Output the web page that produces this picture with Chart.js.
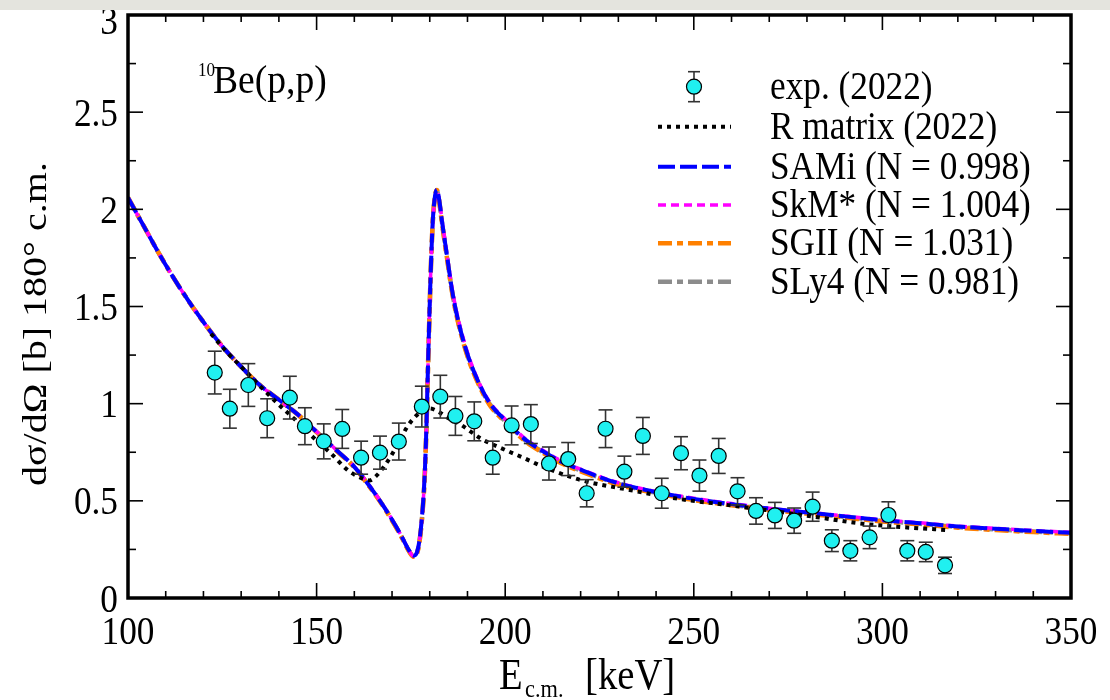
<!DOCTYPE html>
<html>
<head>
<meta charset="utf-8">
<script src="https://cdn.jsdelivr.net/npm/chart.js@4.4.1/dist/chart.umd.min.js"></script>
<style>
html,body{margin:0;padding:0;background:#fff;}
#wrap{position:relative;width:1110px;height:700px;overflow:hidden;}
#band{position:absolute;left:0;top:0;width:1110px;height:10px;background:#e4e4de;}
canvas{position:absolute;left:0;top:0;}
#probe{position:absolute;left:-2000px;top:0;font-family:"Liberation Serif";font-size:40px;}
</style>
</head>
<body>
<div id="wrap">
<canvas id="c" width="1110" height="700"></canvas>
<div id="band"></div>
</div>
<div id="probe">dσ/dΩ 0123456789 exp. (2022)</div>
<script>
// ---------------- data ----------------
const expE = [123.0,127.0,131.9,136.9,142.9,146.9,151.9,156.8,161.8,166.8,171.8,177.9,182.8,186.8,191.8,196.7,201.7,206.8,211.6,216.7,221.6,226.6,231.6,236.5,241.5,246.6,251.5,256.6,261.6,266.5,271.5,276.6,281.5,286.6,291.5,296.6,301.6,306.6,311.5,316.6];
const expSigma = [1.16,0.974,1.096,0.925,1.031,0.884,0.806,0.870,0.722,0.748,0.805,0.985,1.036,0.937,0.909,0.722,0.888,0.895,0.692,0.715,0.539,0.871,0.650,0.834,0.539,0.745,0.630,0.731,0.549,0.448,0.425,0.398,0.470,0.295,0.243,0.312,0.427,0.243,0.237,0.168];
const expErr = [0.11,0.10,0.11,0.10,0.11,0.095,0.09,0.10,0.085,0.085,0.095,0.105,0.11,0.10,0.10,0.085,0.10,0.10,0.085,0.085,0.07,0.097,0.08,0.095,0.077,0.085,0.08,0.09,0.07,0.068,0.067,0.065,0.075,0.056,0.052,0.058,0.068,0.052,0.05,0.042];

const rE = [122,126,130,135,140,145,150,154,158,161,164,166,168,170,172,174,176,178,180,182,185,188.4,193.4,200,205,210,220,233,246,260,272,282,294,305,317];
const rSigma = [1.36,1.27,1.19,1.09,0.995,0.905,0.81,0.74,0.662,0.625,0.605,0.632,0.68,0.74,0.81,0.88,0.93,0.962,0.975,0.962,0.925,0.89,0.822,0.762,0.72,0.676,0.607,0.556,0.51,0.476,0.445,0.418,0.384,0.365,0.35];

const thE = [100,104,108,112,116,120,125,130,135,140,145,150,155,160,165,168,171,173,174.5,175.7,176.6,177.3,178.0,178.6,179.1,179.5,179.9,180.3,180.8,181.4,181.9,182.5,183.2,184.6,185.9,187.2,189.9,193.4,196,200,205,210,215,220,230,240,250,260,270,280,290,300,310,320,330,340,350];
const samiSigma = [2.06,1.92,1.78,1.65,1.53,1.42,1.295,1.19,1.095,1.02,0.945,0.855,0.765,0.675,0.55,0.465,0.37,0.30,0.245,0.218,0.235,0.30,0.43,0.61,0.87,1.17,1.45,1.70,1.94,2.07,2.10,2.05,1.945,1.757,1.585,1.455,1.26,1.09,1.00,0.915,0.82,0.755,0.70,0.66,0.59,0.545,0.51,0.483,0.46,0.44,0.42,0.40,0.385,0.368,0.356,0.345,0.336];
const skmSigma = [2.06,1.92,1.78,1.65,1.53,1.42,1.295,1.19,1.095,1.02,0.945,0.856,0.766,0.676,0.552,0.466,0.371,0.30,0.244,0.216,0.233,0.30,0.43,0.61,0.87,1.17,1.45,1.70,1.93,2.06,2.09,2.05,1.95,1.765,1.595,1.465,1.27,1.095,1.005,0.92,0.825,0.76,0.704,0.663,0.593,0.548,0.513,0.486,0.462,0.442,0.422,0.402,0.387,0.37,0.358,0.347,0.338];
const sgiiSigma = [2.06,1.92,1.78,1.65,1.53,1.42,1.295,1.19,1.095,1.02,0.944,0.853,0.763,0.672,0.547,0.462,0.366,0.296,0.24,0.212,0.228,0.292,0.42,0.60,0.86,1.16,1.44,1.70,1.94,2.07,2.10,2.04,1.935,1.745,1.575,1.445,1.25,1.08,0.99,0.905,0.812,0.747,0.692,0.652,0.583,0.539,0.504,0.477,0.454,0.434,0.414,0.394,0.379,0.362,0.35,0.339,0.33];
const sly4Sigma = [2.06,1.92,1.78,1.65,1.53,1.42,1.295,1.19,1.095,1.02,0.945,0.855,0.764,0.674,0.549,0.464,0.368,0.298,0.242,0.214,0.231,0.296,0.425,0.605,0.865,1.165,1.445,1.70,1.935,2.065,2.095,2.045,1.94,1.75,1.58,1.45,1.255,1.085,0.995,0.91,0.816,0.751,0.696,0.656,0.587,0.542,0.507,0.48,0.457,0.437,0.417,0.397,0.382,0.365,0.353,0.342,0.333];

const xTickValues = [100,150,200,250,300,350];
const xTickLabels = ['100','150','200','250','300','350'];
const yTickValues = [0,0.5,1,1.5,2,2.5,3];
const yTickLabels = ['0','0.5','1','1.5','2','2.5','3'];

const seriesNames = ['exp. (2022)','R matrix (2022)','SAMi (N = 0.998)','SkM* (N = 1.004)','SGII (N = 1.031)','SLy4 (N = 0.981)'];

// ---------------- helpers ----------------
const FONT = '"Liberation Serif", serif';
const SX = 0.86;
function pts(xs, ys){ return xs.map((x,i)=>({x:x, y:ys[i]})); }
function txt(ctx, s, x, y, size, align, sx){
  ctx.save(); ctx.translate(x,y); ctx.scale(sx===undefined?SX:sx,1);
  ctx.font = size + 'px ' + FONT; ctx.textAlign = align||'left'; ctx.textBaseline='alphabetic';
  ctx.fillStyle='#000'; ctx.fillText(s,0,0); ctx.restore();
}
function seg(ctx,x1,y1,x2,y2){ ctx.beginPath(); ctx.moveTo(x1,y1); ctx.lineTo(x2,y2); ctx.stroke(); }

const lineStyles = [
  null,
  {color:'#000000', width:4, dash:[4,5]},
  {color:'#0000ff', width:4, dash:[17,5]},
  {color:'#ff00ff', width:3.5, dash:[8,5]},
  {color:'#ff8000', width:4.5, dash:[14,5,6,5]},
  {color:'#8c8c8c', width:4.5, dash:[14,5,6,5]}
];

function lineDs(label, xs, ys, st, order){
  return {label:label, data:pts(xs,ys), showLine:true, fill:false, pointRadius:0,
    borderColor:st.color, borderWidth:st.width, borderDash:st.dash, borderCapStyle:'butt',
    cubicInterpolationMode:'monotone', order:order};
}

const errorBars = {
  id:'errorBars',
  beforeDatasetDraw(chart, args){
    if(args.index!==0) return;
    const ctx=chart.ctx, xs=chart.scales.x, ys=chart.scales.y;
    ctx.save(); ctx.strokeStyle='#333'; ctx.lineWidth=1.6;
    expE.forEach((e,i)=>{
      const px=xs.getPixelForValue(e);
      const top=ys.getPixelForValue(expSigma[i]+expErr[i]);
      const bot=ys.getPixelForValue(expSigma[i]-expErr[i]);
      seg(ctx,px,top,px,bot); seg(ctx,px-7,top,px+7,top); seg(ctx,px-7,bot,px+7,bot);
    });
    ctx.restore();
  }
};

const frame = {
  id:'frame',
  afterDraw(chart){
    const ctx=chart.ctx, xs=chart.scales.x, ys=chart.scales.y, a=chart.chartArea;
    ctx.save();
    ctx.strokeStyle='#000';
    ctx.lineWidth=1.6;
    for(let v=xs.min; v<=xs.max+1e-9; v+=10){
      const px=xs.getPixelForValue(v); const L=(Math.round(v)%50===0)?15:7;
      seg(ctx,px,a.bottom,px,a.bottom-L); seg(ctx,px,a.top,px,a.top+L);
    }
    for(let v=ys.min; v<=ys.max+1e-9; v+=0.25){
      const py=ys.getPixelForValue(v); const L=(Math.round(v*4)%2===0)?15:8;
      seg(ctx,a.left,py,a.left+L,py); seg(ctx,a.right,py,a.right-L,py);
    }
    ctx.lineWidth=3.5;
    ctx.strokeRect(a.left,a.top,a.right-a.left,a.bottom-a.top);
    // tick labels
    xTickValues.forEach((v,i)=>{ txt(ctx,xTickLabels[i],xs.getPixelForValue(v),a.bottom+46,41,'center'); });
    yTickValues.forEach((v,i)=>{ const py=ys.getPixelForValue(v); txt(ctx,yTickLabels[i],a.left-10,Math.max(py+13.5,a.top+19),41,'right'); });
    // x title
    txt(ctx,'E',499,689,45,'left');
    txt(ctx,'c.m.',525,697,26,'left');
    txt(ctx,'[keV]',585,689,45,'left');
    // y title (rotated)
    ctx.save(); ctx.translate(45.5,324); ctx.scale(SX,1); ctx.rotate(-Math.PI/2);
    ctx.font='40px '+FONT; ctx.textAlign='center'; ctx.textBaseline='alphabetic'; ctx.fillStyle='#000';
    ctx.fillText('dσ/dΩ [b] 180° c.m.',0,0); ctx.restore();
    // annotation
    txt(ctx,'10',198,76,19,'left',0.9);
    txt(ctx,'Be(p,p)',213,93,40,'left',0.94);
    // legend
    const rowY=[86.7,126.7,166.7,205,243.3,281.7];
    ctx.strokeStyle='#333'; ctx.lineWidth=1.6;
    seg(ctx,694,rowY[0]-15,694,rowY[0]+15); seg(ctx,688,rowY[0]-15,700,rowY[0]-15); seg(ctx,688,rowY[0]+15,700,rowY[0]+15);
    ctx.beginPath(); ctx.arc(694,rowY[0],7.5,0,Math.PI*2); ctx.fillStyle='#20f0f0'; ctx.fill(); ctx.strokeStyle='#000'; ctx.lineWidth=1.2; ctx.stroke();
    for(let i=1;i<6;i++){
      const st=lineStyles[i]; ctx.strokeStyle=st.color; ctx.lineWidth=st.width; ctx.setLineDash(st.dash); ctx.lineCap='butt';
      seg(ctx,658,rowY[i],731,rowY[i]);
    }
    ctx.setLineDash([]);
    seriesNames.forEach((s,i)=>txt(ctx,s,770,rowY[i]+12,41,'left'));
    ctx.restore();
  }
};

function build(){
  new Chart(document.getElementById('c'), {
    type:'scatter',
    data:{datasets:[
      {label:seriesNames[0], data:pts(expE,expSigma), showLine:false, pointRadius:7.5, pointHoverRadius:7.5,
       pointBackgroundColor:'#20f0f0', pointBorderColor:'#000', pointBorderWidth:1.2, order:0},
      lineDs(seriesNames[1], rE, rSigma, lineStyles[1], 1),
      lineDs(seriesNames[2], thE, samiSigma, lineStyles[2], 2),
      lineDs(seriesNames[3], thE, skmSigma, lineStyles[3], 3),
      lineDs(seriesNames[4], thE, sgiiSigma, lineStyles[4], 4),
      lineDs(seriesNames[5], thE, sly4Sigma, lineStyles[5], 5)
    ]},
    options:{
      responsive:false, animation:false, events:[],
      layout:{padding:{top:15,right:39,left:0,bottom:0}},
      plugins:{legend:{display:false}, tooltip:{enabled:false}},
      scales:{
        x:{type:'linear', min:100, max:350, grid:{display:false}, border:{display:false},
           ticks:{display:false, stepSize:50},
           afterFit(s){ s.height=102; s.paddingLeft=0; s.paddingRight=0; }},
        y:{type:'linear', min:0, max:3, grid:{display:false}, border:{display:false},
           ticks:{display:false, stepSize:0.5},
           afterFit(s){ s.width=128; s.paddingTop=0; s.paddingBottom=0; }}
      }
    },
    plugins:[errorBars, frame]
  });
}
let built=false;
function go(){ if(!built){ built=true; build(); } }
if(document.fonts && document.fonts.load){
  document.fonts.load('40px "Liberation Serif"').then(go, go);
  setTimeout(go, 1500);
} else { go(); }
</script>
</body>
</html>
